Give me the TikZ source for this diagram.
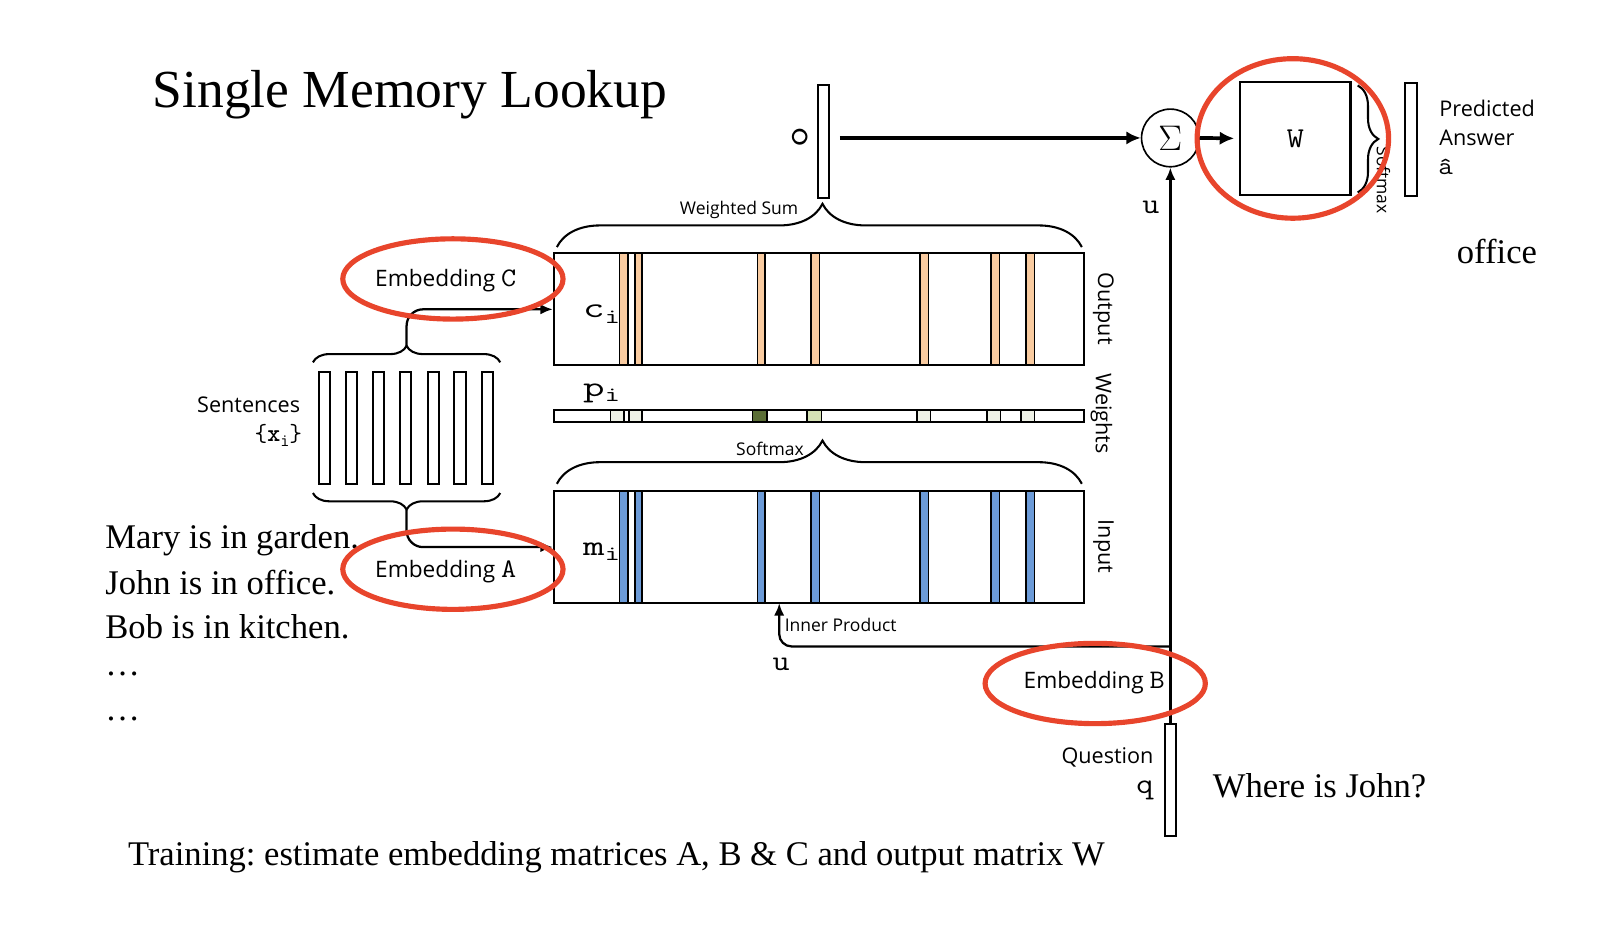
\documentclass[tikz,border=0pt]{standalone}
\usepackage{fontspec}
\setmainfont{Liberation Serif}
\newfontfamily\sansf{Open Sans}
\usepackage{graphicx}
\usetikzlibrary{shapes.geometric,arrows.meta,decorations.pathreplacing}
\definecolor{redE}{HTML}{E8452C}
\definecolor{peach}{HTML}{F9CBA0}
\definecolor{blueS}{HTML}{6C9BD8}
\definecolor{cellL}{HTML}{EEF1E6}
\definecolor{cellD}{HTML}{5B6E36}
\definecolor{cellG}{HTML}{D5E1B5}
\newcommand\fs[1]{\fontsize{#1}{#1}\selectfont}
\newcommand\mono[3]{\scalebox{#2}[1]{\fs{#1}\ttfamily #3}}
\newcommand\msub[1]{\raisebox{-0.45ex}{\scalebox{0.72}{#1}}}
\frenchspacing
\begin{document}
\begin{tikzpicture}[x=0.5pt,y=-0.5pt,
  box/.style={draw=black, line width=1pt, rectangle, inner sep=0pt},
  stripe/.style={draw=black, line width=0.8pt},
  arr/.style={-{Latex[length=6pt,width=5pt]}, line width=1.1pt},
  bigarr/.style={-{Latex[length=7pt,width=6.5pt]}, line width=1.8pt},
  redell/.style={ellipse, draw=redE, line width=2.5pt, inner sep=0pt},
  sanslbl/.style={font=\sansf\fs{10.5}, inner sep=0pt},
  smalllbl/.style={font=\sansf\fs{8.5}, inner sep=0pt},
  bodytext/.style={font=\fs{16.8}, inner sep=0pt, anchor=west}
]
\useasboundingbox (0,0) rectangle (1568,900);

% title and texts
\node[font=\fs{26}, anchor=west, inner sep=0pt] (title) at (148,92) {Single Memory Lookup};
\node[bodytext] (s1t) at (102,525) {Mary is in garden.};
\node[bodytext] (s2t) at (102,566) {John is in office.};
\node[bodytext] (s3t) at (102,609) {Bob is in kitchen.};
\node[bodytext] (d1) at (102,655) {\ldots};
\node[bodytext] (d2) at (102,698) {\ldots};
\node[bodytext] (train) at (124,833) {Training: estimate embedding matrices A, B \& C and output matrix W};
\node[bodytext] (where) at (1178,763) {Where is John?};
\node[bodytext] (office) at (1415,244) {office};

% stripes in output box
\foreach \a/\b in {602/610,617/624,736/743,788/796,894/902,963/971,997/1005}
  \filldraw[stripe, fill=peach] (\a,246) rectangle (\b,355);
% stripes in input box
\foreach \a/\b in {602/610,617/624,736/743,788/796,894/902,963/971,997/1005}
  \filldraw[stripe, fill=blueS] (\a,477) rectangle (\b,586);
% cells in weights bar
\foreach \a/\b in {593/606,611/624,891/904,959/972,992/1005}
  \filldraw[stripe, fill=cellL] (\a,398) rectangle (\b,410);
\filldraw[stripe, fill=cellD] (731,398) rectangle (745,410);
\filldraw[stripe, fill=cellG] (784,398) rectangle (798,410);

% main boxes
\node[box, minimum width=257.5pt, minimum height=54.5pt] (outbox) at (795.5,300.5) {};
\node[box, minimum width=257.5pt, minimum height=6pt] (wbar) at (795.5,404) {};
\node[box, minimum width=257.5pt, minimum height=54.5pt] (inbox) at (795.5,531.5) {};

\node[anchor=west, inner sep=0pt] (ci) at (566,305) {\mono{14}{1.45}{c\msub{i}}};
\node[anchor=west, inner sep=0pt] (pi) at (566,382) {\mono{14}{1.45}{p\msub{i}}};
\node[anchor=west, inner sep=0pt] (mi) at (566,536) {\mono{14}{1.45}{m\msub{i}}};

\node[sanslbl, rotate=-90] (outl) at (1072,300) {Output};
\node[sanslbl, rotate=-90] (wgtl) at (1070,402) {Weights};
\node[sanslbl, rotate=-90] (inl) at (1072,531) {Input};

% braces over boxes
\draw[line width=1pt, decorate, decoration={brace, amplitude=21pt, aspect=0.506}] (541,240) -- (1051,240);
\draw[line width=1pt, decorate, decoration={brace, amplitude=21pt, aspect=0.506}] (541,470) -- (1051,470);
\node[smalllbl] (wsum) at (718,204) {Weighted Sum};
\node[smalllbl] (smax) at (748,436) {Softmax};

% o bar
\node[box, minimum width=5pt, minimum height=54.5pt] (obar) at (800,137.5) {};
\node[inner sep=0pt, rotate=90] (ol) at (777,133) {\mono{17}{1.15}{o}};

% sigma and W
\node[circle, draw=black, line width=0.8pt, minimum size=28pt, inner sep=0pt] (sig) at (1137,134) {\fs{16}$\Sigma$};
\node[box, minimum width=53.5pt, minimum height=54.5pt] (Wbox) at (1258.5,134.5) {\mono{14}{1.15}{W}};
\draw[line width=1pt, decorate, decoration={brace, amplitude=10pt, aspect=0.5}] (1319,83) -- (1319,187);
\node[smalllbl, rotate=-90] (smaxw) at (1344,175) {Softmax};
\node[box, minimum width=6pt, minimum height=54.5pt] (ansbar) at (1371,135.5) {};
\node[sanslbl, anchor=west] (pred) at (1398,105) {Predicted};
\node[sanslbl, anchor=west] (answ) at (1398,134) {Answer};
\node[anchor=west, inner sep=0pt] (ahat) at (1397,162) {\mono{12}{1.15}{\^a}};
\node[inner sep=0pt] (ulbl) at (1118,201) {\mono{14}{1.15}{u}};

\draw[bigarr, shorten <=5pt] (obar.east |- sig.west) -- (sig.west);
\draw[bigarr, shorten >=2.5pt] (sig.east) -- (Wbox.west);

% question
\node[box, minimum width=5.5pt, minimum height=54.5pt] (qbar) at (1137,757.5) {};
\node[sanslbl, anchor=east] (quest) at (1121,736) {Question};
\node[anchor=east, inner sep=0pt] (ql) at (1121,768) {\mono{14}{1.15}{q}};
\coordinate (junc) at (1137,628);
\coordinate (ipt) at (757,586);
\draw[arr] (qbar.north) -- (sig.south);
\draw[arr, rounded corners=6pt] (junc) -| (ipt);
\node[smalllbl, anchor=west] (inner) at (762,607) {Inner Product};
\node[inner sep=0pt] (ul2) at (759,645) {\mono{14}{1.15}{u}};

% sentences
\foreach \i/\x in {1/315,2/341.5,3/368,4/394,5/421,6/447,7/473.5}
  \node[box, minimum width=5.5pt, minimum height=54.5pt] (s\i) at (\x,415.5) {};
\node[sanslbl, anchor=east] (sent) at (292,393) {Sentences};
\node[anchor=east, inner sep=0pt] (xi) at (294,423) {\fs{12}\ttfamily\{\textbf{x}\msub{i}\}};
\draw[line width=1pt, decorate, decoration={brace, amplitude=8pt, aspect=0.5}] (304,352) -- (486,352);
\draw[line width=1pt, decorate, decoration={brace, amplitude=8pt, aspect=0.5}] (486,479) -- (304,479);
\coordinate (ctip) at (395,336);
\coordinate (atip) at (395,495);
\draw[arr, rounded corners=8pt] (ctip) |- (outbox.west);
\draw[arr, rounded corners=8pt] (atip) |- (inbox.west);

% embedding labels and red ellipses
\node[font=\sansf\fs{11}, inner sep=0pt] (embC) at (433,273) {Embedding \mono{13}{1.1}{C}};
\node[font=\sansf\fs{11}, inner sep=0pt] (embA) at (433,555) {Embedding \mono{13}{1.1}{A}};
\node[font=\sansf\fs{11}, inner sep=0pt] (embB) at (1063,663) {Embedding \mono{13}{1.1}{B}};
\node[redell, minimum width=107pt, minimum height=39pt] (ellC) at (440,271) {};
\node[redell, minimum width=107pt, minimum height=39pt] (ellA) at (440,553) {};
\node[redell, minimum width=107pt, minimum height=39pt] (ellB) at (1064,664) {};
\node[redell, minimum width=93pt, minimum height=77.5pt] (ellW) at (1256,134.5) {};
\end{tikzpicture}
\end{document}
